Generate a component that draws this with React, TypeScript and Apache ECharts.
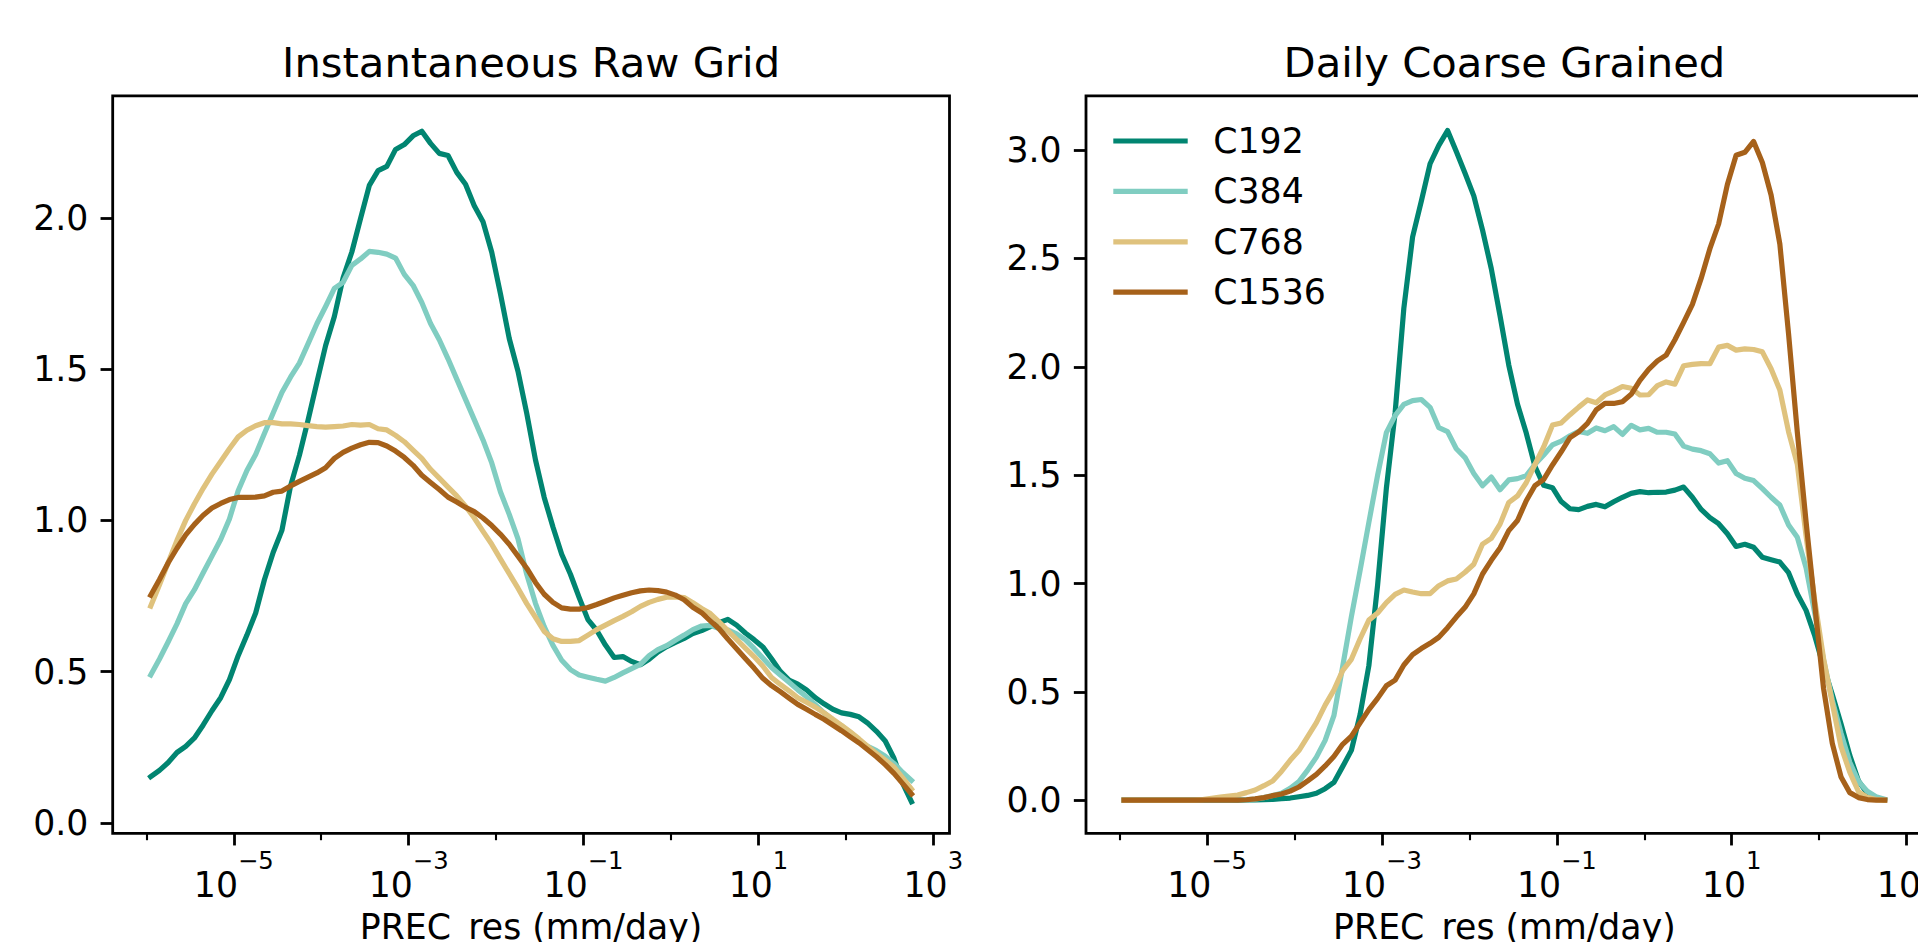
import React, { useEffect, useRef } from 'react';
import * as echarts from 'echarts';

// ---------- data ----------
// bin centres, as exponents of 10 (mm/day)
const X_EXP = [
  -5.95, -5.85, -5.75, -5.65, -5.55, -5.45, -5.35, -5.25, -5.15, -5.05,
  -4.95, -4.85, -4.75, -4.65, -4.55, -4.45, -4.35, -4.25, -4.15, -4.05,
  -3.95, -3.85, -3.75, -3.65, -3.55, -3.45, -3.35, -3.25, -3.15, -3.05,
  -2.95, -2.85, -2.75, -2.65, -2.55, -2.45, -2.35, -2.25, -2.15, -2.05,
  -1.95, -1.85, -1.75, -1.65, -1.55, -1.45, -1.35, -1.25, -1.15, -1.05,
  -0.95, -0.85, -0.75, -0.65, -0.55, -0.45, -0.35, -0.25, -0.15, -0.05,
  0.05, 0.15, 0.25, 0.35, 0.45, 0.55, 0.65, 0.75, 0.85, 0.95,
  1.05, 1.15, 1.25, 1.35, 1.45, 1.55, 1.65, 1.75, 1.85, 1.95,
  2.05, 2.15, 2.25, 2.35, 2.45, 2.55, 2.65, 2.75,
];

const SERIES_NAMES = ['C192', 'C384', 'C768', 'C1536'];

// Instantaneous Raw Grid
const RAW_C192 = [
  0.153, 0.174, 0.200, 0.233, 0.253, 0.281, 0.324, 0.371, 0.414, 0.474,
  0.553, 0.621, 0.694, 0.804, 0.894, 0.967, 1.115, 1.215, 1.332, 1.456,
  1.578, 1.674, 1.802, 1.887, 1.998, 2.107, 2.156, 2.170, 2.226, 2.242,
  2.271, 2.286, 2.246, 2.213, 2.206, 2.150, 2.111, 2.040, 1.987, 1.886,
  1.748, 1.601, 1.493, 1.354, 1.200, 1.076, 0.978, 0.888, 0.822, 0.745,
  0.672, 0.637, 0.588, 0.547, 0.550, 0.534, 0.523, 0.541, 0.565, 0.583,
  0.597, 0.610, 0.626, 0.636, 0.649, 0.662, 0.673, 0.654, 0.628, 0.606,
  0.582, 0.543, 0.501, 0.472, 0.459, 0.440, 0.414, 0.394, 0.376, 0.364,
  0.359, 0.351, 0.330, 0.303, 0.271, 0.214, 0.131, 0.070,
];
const RAW_C384 = [
  0.489, 0.542, 0.599, 0.658, 0.725, 0.771, 0.827, 0.882, 0.937, 1.005,
  1.098, 1.165, 1.218, 1.287, 1.355, 1.423, 1.474, 1.520, 1.584, 1.650,
  1.707, 1.767, 1.787, 1.843, 1.864, 1.889, 1.886, 1.880, 1.867, 1.813,
  1.777, 1.720, 1.651, 1.597, 1.534, 1.467, 1.400, 1.333, 1.266, 1.190,
  1.094, 1.020, 0.939, 0.822, 0.726, 0.649, 0.587, 0.538, 0.507, 0.489,
  0.482, 0.475, 0.469, 0.481, 0.496, 0.510, 0.524, 0.553, 0.573, 0.586,
  0.604, 0.621, 0.639, 0.651, 0.653, 0.643, 0.638, 0.625, 0.606, 0.577,
  0.545, 0.514, 0.489, 0.465, 0.440, 0.417, 0.391, 0.364, 0.341, 0.321,
  0.299, 0.273, 0.253, 0.239, 0.221, 0.197, 0.167, 0.141,
];
const RAW_C768 = [
  0.717, 0.787, 0.861, 0.934, 1.000, 1.055, 1.106, 1.153, 1.195, 1.237,
  1.276, 1.298, 1.313, 1.323, 1.323, 1.319, 1.319, 1.317, 1.313, 1.310,
  1.308, 1.310, 1.312, 1.317, 1.315, 1.317, 1.303, 1.299, 1.281, 1.260,
  1.232, 1.205, 1.169, 1.140, 1.110, 1.081, 1.047, 1.008, 0.964, 0.921,
  0.872, 0.824, 0.776, 0.725, 0.680, 0.633, 0.609, 0.600, 0.600, 0.603,
  0.621, 0.639, 0.654, 0.669, 0.683, 0.698, 0.716, 0.729, 0.739, 0.746,
  0.747, 0.745, 0.728, 0.709, 0.692, 0.665, 0.636, 0.607, 0.578, 0.550,
  0.519, 0.481, 0.458, 0.437, 0.414, 0.399, 0.383, 0.364, 0.343, 0.323,
  0.301, 0.278, 0.253, 0.230, 0.208, 0.185, 0.149, 0.112,
];
const RAW_C1536 = [
  0.753, 0.805, 0.860, 0.908, 0.952, 0.987, 1.017, 1.041, 1.056, 1.069,
  1.076, 1.076, 1.077, 1.081, 1.093, 1.097, 1.114, 1.129, 1.143, 1.157,
  1.174, 1.205, 1.225, 1.239, 1.250, 1.258, 1.257, 1.246, 1.229, 1.208,
  1.182, 1.149, 1.125, 1.102, 1.077, 1.061, 1.043, 1.029, 1.008, 0.983,
  0.954, 0.921, 0.882, 0.842, 0.795, 0.756, 0.729, 0.711, 0.707, 0.707,
  0.712, 0.722, 0.733, 0.744, 0.753, 0.761, 0.767, 0.770, 0.768, 0.763,
  0.753, 0.738, 0.713, 0.695, 0.668, 0.642, 0.608, 0.576, 0.544, 0.512,
  0.478, 0.454, 0.434, 0.413, 0.392, 0.376, 0.359, 0.343, 0.324, 0.305,
  0.285, 0.265, 0.242, 0.219, 0.193, 0.164, 0.130, 0.096,
];

// Daily Coarse Grained
const DAILY_C192 = [
  0, 0, 0, 0, 0, 0, 0, 0, 0, 0,
  0, 0, 0, 0, 0.001, 0.002, 0.003, 0.004, 0.007, 0.010,
  0.016, 0.022, 0.032, 0.053, 0.082, 0.155, 0.230, 0.396, 0.621, 0.993,
  1.439, 1.787, 2.270, 2.599, 2.765, 2.937, 3.022, 3.090, 2.993, 2.893,
  2.789, 2.631, 2.453, 2.236, 2.008, 1.827, 1.694, 1.540, 1.453, 1.442,
  1.378, 1.345, 1.341, 1.356, 1.365, 1.354, 1.377, 1.398, 1.416, 1.424,
  1.419, 1.421, 1.422, 1.431, 1.445, 1.398, 1.342, 1.304, 1.276, 1.230,
  1.171, 1.181, 1.167, 1.121, 1.110, 1.099, 1.050, 0.952, 0.876, 0.758,
  0.616, 0.488, 0.352, 0.207, 0.088, 0.032, 0.009, 0.001,
];
const DAILY_C384 = [
  0, 0, 0, 0, 0, 0, 0, 0, 0, 0,
  0, 0, 0, 0.001, 0.003, 0.005, 0.012, 0.022, 0.032, 0.055,
  0.086, 0.139, 0.199, 0.276, 0.390, 0.616, 0.847, 1.061, 1.282, 1.500,
  1.696, 1.775, 1.827, 1.844, 1.849, 1.813, 1.719, 1.701, 1.622, 1.581,
  1.508, 1.451, 1.491, 1.433, 1.478, 1.484, 1.498, 1.550, 1.593, 1.640,
  1.657, 1.682, 1.702, 1.693, 1.718, 1.705, 1.724, 1.688, 1.730, 1.709,
  1.716, 1.698, 1.698, 1.690, 1.634, 1.620, 1.613, 1.599, 1.556, 1.567,
  1.508, 1.486, 1.475, 1.438, 1.398, 1.362, 1.270, 1.213, 1.073, 0.862,
  0.647, 0.462, 0.309, 0.175, 0.086, 0.041, 0.016, 0.004,
];
const DAILY_C768 = [
  0, 0, 0, 0, 0, 0, 0, 0, 0, 0.003,
  0.009, 0.014, 0.019, 0.024, 0.035, 0.047, 0.067, 0.089, 0.133, 0.184,
  0.229, 0.293, 0.358, 0.439, 0.508, 0.598, 0.650, 0.745, 0.831, 0.864,
  0.912, 0.950, 0.970, 0.961, 0.953, 0.953, 0.990, 1.012, 1.021, 1.052,
  1.089, 1.182, 1.208, 1.274, 1.374, 1.404, 1.465, 1.550, 1.631, 1.731,
  1.741, 1.779, 1.814, 1.847, 1.834, 1.870, 1.888, 1.909, 1.901, 1.870,
  1.871, 1.913, 1.930, 1.920, 2.005, 2.011, 2.015, 2.014, 2.091, 2.099,
  2.077, 2.083, 2.080, 2.069, 1.991, 1.893, 1.700, 1.550, 1.220, 0.919,
  0.654, 0.447, 0.247, 0.129, 0.039, 0.013, 0.003, 0,
];
const DAILY_C1536 = [
  0, 0, 0, 0, 0, 0, 0, 0, 0, 0,
  0, 0, 0, 0, 0.002, 0.006, 0.012, 0.021, 0.029, 0.042,
  0.061, 0.089, 0.119, 0.158, 0.202, 0.258, 0.295, 0.357, 0.418, 0.470,
  0.528, 0.554, 0.624, 0.672, 0.700, 0.724, 0.752, 0.796, 0.845, 0.890,
  0.952, 1.044, 1.107, 1.164, 1.244, 1.291, 1.382, 1.452, 1.481, 1.547,
  1.608, 1.673, 1.700, 1.739, 1.801, 1.831, 1.831, 1.839, 1.873, 1.937,
  1.988, 2.027, 2.054, 2.125, 2.205, 2.288, 2.408, 2.545, 2.659, 2.841,
  2.976, 2.990, 3.040, 2.943, 2.793, 2.567, 2.151, 1.698, 1.285, 0.899,
  0.516, 0.262, 0.107, 0.035, 0.012, 0.003, 0, 0,
];

// tick values
const X_MAJOR_EXP = [-5, -3, -1, 1, 3];
const X_MINOR_EXP = [-6, -4, -2, 0, 2];
const Y_TICKS_RAW = [0, 0.5, 1.0, 1.5, 2.0];
const Y_TICKS_DAILY = [0, 0.5, 1.0, 1.5, 2.0, 2.5, 3.0];

const TITLES = ['Instantaneous Raw Grid', 'Daily Coarse Grained'];
const X_LABEL = 'PREC_res (mm/day)';

// ---------- styles ----------
const COLORS = ['#018571', '#80cdc1', '#dfc27d', '#a6611a'];
const FONT = "'DejaVu Sans', sans-serif";
const MINUS = '\u2212';
const TICK_FS = 34.7;
const TITLE_FS = 41.7;
const LW = 5.2;

const GRID_TOP = 95.8;
const GRID_H = 737.5;
const GRID_W = 836.8;
const GRID_LEFTS = [112.7, 1086];
const X_MIN_EXP = -6.385;
const X_MAX_EXP = 3.185;
const Y_RANGES: [number, number][] = [[-0.034, 2.4032], [-0.1527, 3.2506]];

export default function App() {
  const ref = useRef<HTMLDivElement>(null);

  useEffect(() => {
    if (!ref.current) return;
    const chart = echarts.init(ref.current, null, { renderer: 'svg', width: 1918, height: 942 });

    const xVals = X_EXP.map((e) => Math.pow(10, e));
    const major = X_MAJOR_EXP.map((e) => Math.pow(10, e));
    const minor = X_MINOR_EXP.map((e) => Math.pow(10, e));
    const xmin = Math.pow(10, X_MIN_EXP);
    const xmax = Math.pow(10, X_MAX_EXP);

    const panels = [
      [RAW_C192, RAW_C384, RAW_C768, RAW_C1536],
      [DAILY_C192, DAILY_C384, DAILY_C768, DAILY_C1536],
    ];
    const yTicks = [Y_TICKS_RAW, Y_TICKS_DAILY];

    const grids = GRID_LEFTS.map((left) => ({
      left,
      top: GRID_TOP,
      width: GRID_W,
      height: GRID_H,
      show: true,
      borderColor: '#000',
      borderWidth: 2.8,
      backgroundColor: 'transparent',
      containLabel: false,
      outerBoundsMode: 'none',
    }));

    const expLabel = (v: number) => {
      const e = Math.round(Math.log10(v));
      return '{b|10}{s|' + (e < 0 ? MINUS : '') + Math.abs(e) + '}';
    };

    const majorX = [0, 1].map((g) => ({
      type: 'log',
      logBase: 10,
      gridIndex: g,
      position: 'bottom',
      min: xmin,
      max: xmax,
      axisLine: { show: false, onZero: false },
      axisTick: {
        show: true,
        customValues: major,
        length: 12.15,
        lineStyle: { color: '#000', width: 2.8 },
      },
      minorTick: { show: false },
      splitLine: { show: false },
      axisLabel: {
        show: true,
        customValues: major,
        formatter: expLabel,
        margin: 15,
        hideOverlap: false,
        color: '#000',
        fontFamily: FONT,
        rich: {
          b: { fontSize: TICK_FS, lineHeight: 54, verticalAlign: 'bottom', fontFamily: FONT, color: '#000' },
          s: { fontSize: 24.3, lineHeight: 24, verticalAlign: 'top', fontFamily: FONT, color: '#000' },
        },
      },
      name: X_LABEL,
      nameLocation: 'middle',
      nameGap: 76,
      nameTextStyle: { fontSize: TICK_FS, color: '#000', fontFamily: FONT, lineHeight: 35 },
    }));

    const minorX = [0, 1].map((g) => ({
      type: 'log',
      logBase: 10,
      gridIndex: g,
      position: 'bottom',
      min: xmin,
      max: xmax,
      axisLine: { show: false, onZero: false },
      axisTick: {
        show: true,
        customValues: minor,
        length: 6.9,
        lineStyle: { color: '#000', width: 2.1 },
      },
      minorTick: { show: false },
      splitLine: { show: false },
      axisLabel: { show: false },
    }));

    const yAxes = [0, 1].map((g) => ({
      type: 'value',
      gridIndex: g,
      position: 'left',
      min: Y_RANGES[g][0],
      max: Y_RANGES[g][1],
      axisLine: { show: false, onZero: false },
      axisTick: {
        show: true,
        customValues: yTicks[g],
        length: 12.15,
        lineStyle: { color: '#000', width: 2.8 },
      },
      splitLine: { show: false },
      axisLabel: {
        show: true,
        customValues: yTicks[g],
        formatter: (v: number) => v.toFixed(1),
        margin: 24.3,
        fontSize: TICK_FS,
        color: '#000',
        fontFamily: FONT,
      },
    }));

    const series: any[] = [];
    panels.forEach((vals, g) => {
      vals.forEach((arr, i) => {
        series.push({
          type: 'line',
          name: SERIES_NAMES[i],
          xAxisIndex: g,
          yAxisIndex: g,
          data: arr.map((y, j) => [xVals[j], y]),
          showSymbol: false,
          symbol: 'none',
          clip: true,
          z: 2 + i,
          itemStyle: { color: COLORS[i] },
          lineStyle: { color: COLORS[i], width: LW, cap: 'square', join: 'round' },
        });
      });
    });

    const option: any = {
      animation: false,
      backgroundColor: '#fff',
      title: TITLES.map((t, g) => ({
        text: t,
        left: GRID_LEFTS[g] + GRID_W / 2,
        top: 41.6,
        textAlign: 'center',
        textVerticalAlign: 'top',
        padding: 0,
        textStyle: {
          fontSize: TITLE_FS,
          fontWeight: 'normal',
          color: '#000',
          fontFamily: FONT,
          lineHeight: 42,
        },
      })),
      legend: {
        data: SERIES_NAMES,
        orient: 'vertical',
        left: 1113.3,
        top: 121,
        padding: 0,
        itemGap: 10.4,
        itemWidth: 74.4,
        itemHeight: 5.2,
        icon: 'rect',
        selectedMode: false,
        textStyle: {
          fontSize: TICK_FS,
          color: '#000',
          fontFamily: FONT,
          lineHeight: 40,
          padding: [0, 0, 0, 20.6],
        },
      },
      grid: grids,
      xAxis: [...majorX, ...minorX],
      yAxis: yAxes,
      series,
    };

    chart.setOption(option);
    return () => chart.dispose();
  }, []);

  return (
    <div
      ref={ref}
      style={{ position: 'fixed', left: 0, top: 0, width: 1918, height: 942, background: '#fff' }}
    />
  );
}
